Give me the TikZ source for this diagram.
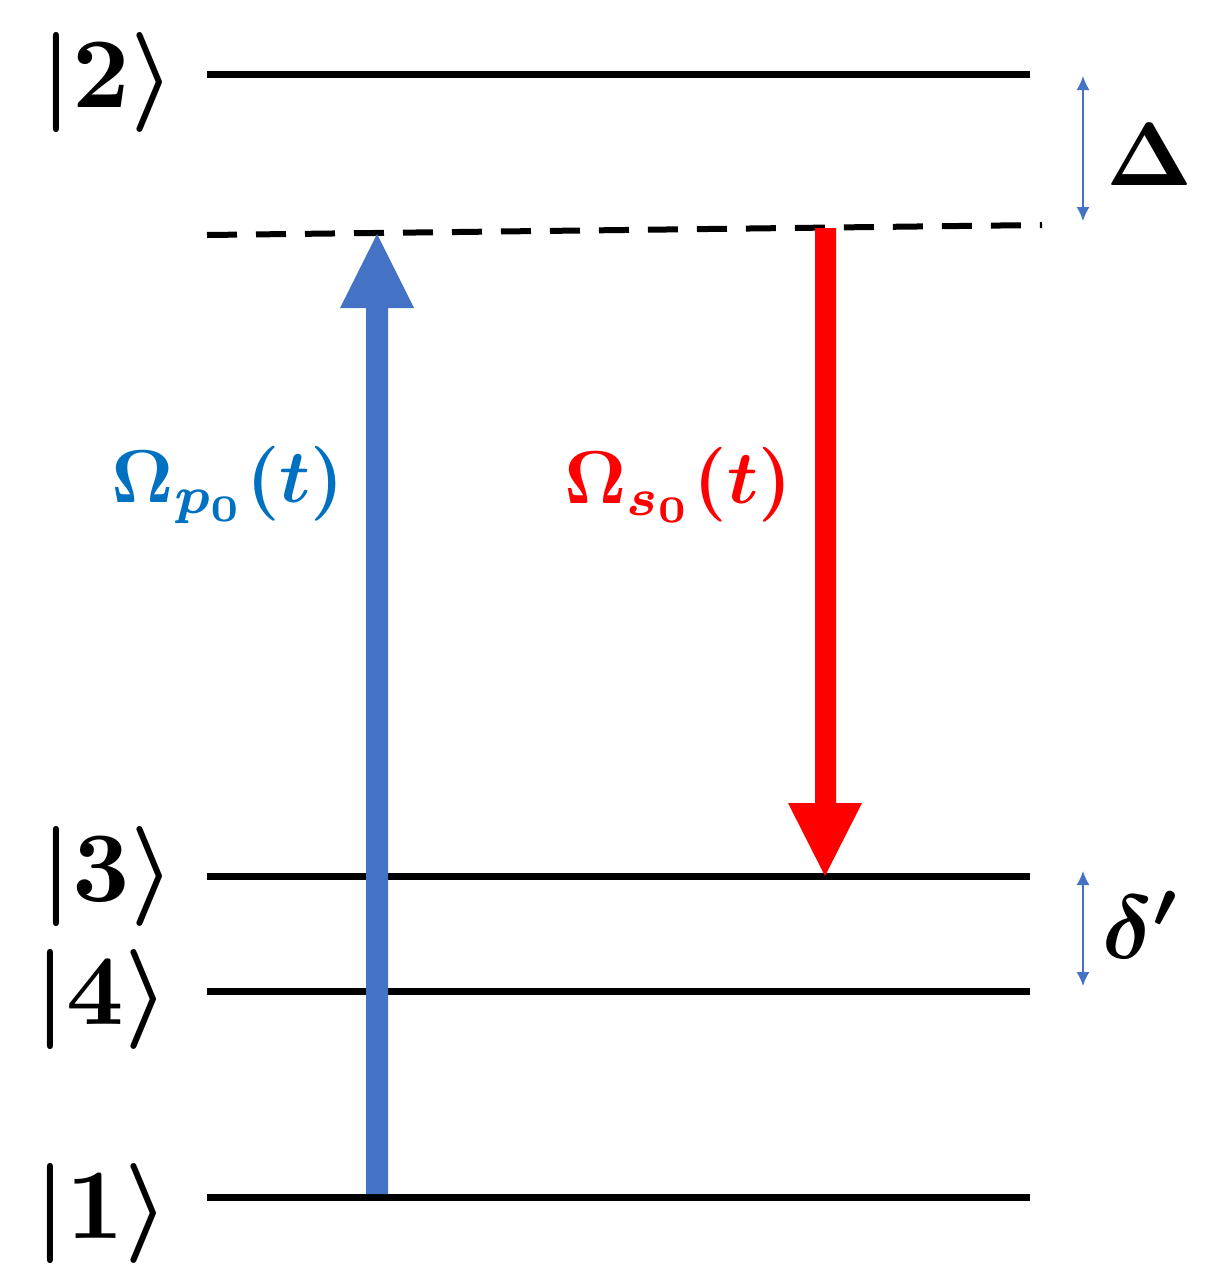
\documentclass[tikz,border=0pt]{standalone}
\usepackage{amsmath,bm}
\definecolor{pblue}{HTML}{4472C4}
\definecolor{tblue}{HTML}{0070C0}
\definecolor{sred}{HTML}{FF0000}
\usetikzlibrary{arrows.meta}
\tikzset{level/.style={line width=7pt},
  ket/.style={scale=10,transform shape},
  lab/.style={scale=7.5,transform shape},
  det/.style={pblue,line width=1.5pt,{Latex[length=14pt,width=13pt]}-{Latex[length=14pt,width=13pt]}}}
\begin{document}
\begin{tikzpicture}[x=1pt,y=-1pt]
\useasboundingbox (0,0) rectangle (1219,1266);
\coordinate (L2a) at (207,74); \coordinate (L2b) at (1030,74);
\coordinate (Da) at (207,235); \coordinate (Db) at (1042,225);
\coordinate (L3a) at (207,876); \coordinate (L3b) at (1030,876);
\coordinate (L4a) at (207,991); \coordinate (L4b) at (1030,991);
\coordinate (L1a) at (207,1197); \coordinate (L1b) at (1030,1197);
\draw[level] (L2a) -- (L2b);
\draw[level] (L3a) -- (L3b);
\draw[level] (L4a) -- (L4b);
\draw[level] (L1a) -- (L1b);
\draw[line width=6pt,dash pattern=on 30pt off 19pt] (Da) -- (Db);
\fill[pblue] (366,1194) -- (388,1194) -- (388,308) -- (414,308) -- (377,234) -- (340,308) -- (366,308) -- cycle;
\fill[sred] (815,228) -- (836,228) -- (836,803) -- (862,803) -- (825,876) -- (788,803) -- (815,803) -- cycle;
\coordinate (Dt) at (1083,76); \coordinate (Dbt) at (1083,221);
\draw[det] (Dt) -- (Dbt);
\coordinate (dt) at (1083,871); \coordinate (db) at (1083,986);
\draw[det] (dt) -- (db);
\node[ket] (k2) at (108,82) {$\bm{|2\rangle}$};
\node[ket] (k3) at (108,876) {$\bm{|3\rangle}$};
\node[ket] (k4) at (102,999) {$\bm{|4\rangle}$};
\node[ket] (k1) at (102,1213) {$\bm{|1\rangle}$};
\node[ket,scale=0.9] (D) at (1150,155) {$\bm{\Delta}$};
\node[ket,scale=0.9] (dp) at (1142,925) {$\bm{\delta'}$};
\node[lab,text=tblue] (op) at (228,485) {$\bm{\Omega_{p_0}(t)}$};
\node[lab,text=sred] (os) at (678,485) {$\bm{\Omega_{s_0}(t)}$};
\end{tikzpicture}
\end{document}
